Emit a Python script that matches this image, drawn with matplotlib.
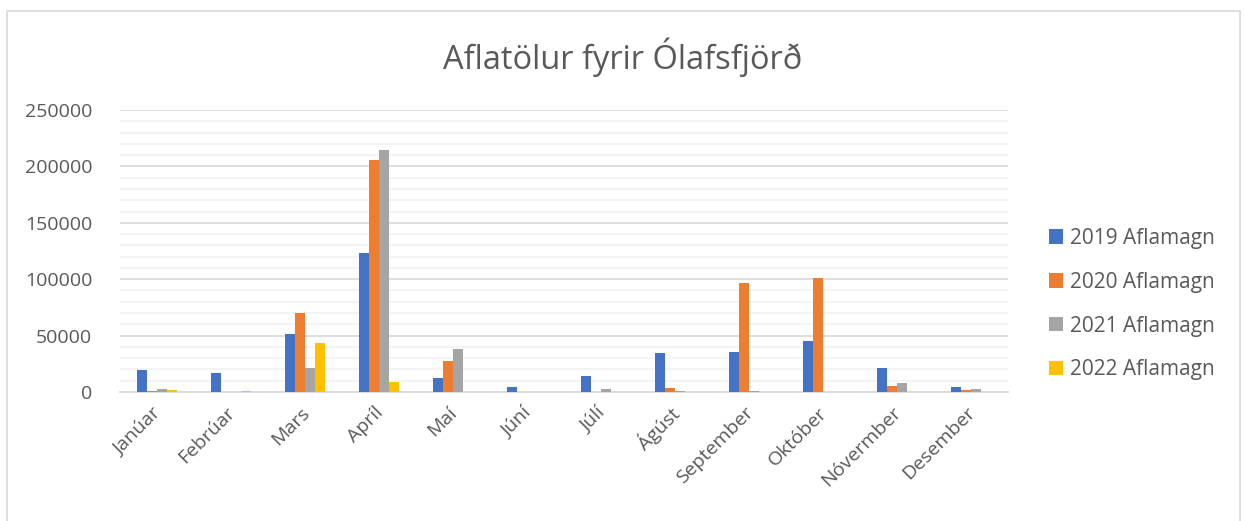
import numpy as np
import matplotlib.pyplot as plt
from matplotlib.patches import Rectangle
from matplotlib.ticker import MultipleLocator

plt.rcParams['font.family'] = ['Open Sans', 'DejaVu Sans']

months = ['Janúar', 'Febrúar', 'Mars', 'Apríl', 'Maí', 'Júní', 'Júlí',
          'Ágúst', 'September', 'Október', 'Nóvermber', 'Desember']
series_names = ['2019 Aflamagn', '2020 Aflamagn', '2021 Aflamagn', '2022 Aflamagn']

afli_2019 = [19200, 16800, 51800, 123200, 12100, 4800, 14200, 34900, 35800, 45000, 21300, 4200]
afli_2020 = [500, 0, 69800, 206000, 27500, 0, 300, 3600, 96400, 101100, 5300, 1500]
afli_2021 = [3000, 0, 21600, 214900, 38100, 0, 2400, 500, 500, 0, 8300, 2400]
afli_2022 = [1500, 900, 43800, 8600, 0, 0, 0, 0, 0, 0, 0, 0]

colors = ['#4472C4', '#ED7D31', '#A5A5A5', '#FFC000']
text_color = '#595959'

fig = plt.figure(figsize=(12.44, 5.21), dpi=100)
ax = fig.add_axes([120 / 1244, 1 - 392 / 521, 888 / 1244, 282 / 521])

# outer chart border
fig.add_artist(Rectangle((7 / 1244, -0.05), 1233 / 1244, 1.05 - 11 / 521,
                         transform=fig.transFigure, fill=False,
                         edgecolor='#d9d9d9', linewidth=1.2))

x = np.arange(len(months))
bw = 0.135
all_series = [afli_2019, afli_2020, afli_2021, afli_2022]
for i, (vals, name) in enumerate(zip(all_series, series_names)):
    ax.bar(x + (i - 1.5) * bw, vals, width=bw, color=colors[i], label=name,
           zorder=3)

ax.set_xlim(-0.5, len(months) - 0.5)
ax.set_ylim(0, 250000)
ax.yaxis.set_major_locator(MultipleLocator(50000))
ax.yaxis.set_minor_locator(MultipleLocator(10000))
ax.grid(axis='y', which='major', color='#d9d9d9', linewidth=1.2, zorder=0)
ax.grid(axis='y', which='minor', color='#f2f2f2', linewidth=1.2, zorder=0)

for side in ['top', 'right', 'left']:
    ax.spines[side].set_visible(False)
ax.spines['bottom'].set_color('#d9d9d9')
ax.spines['bottom'].set_linewidth(1.2)

ax.set_xticks(x)
ax.set_xticklabels(months, rotation=45, ha='right', va='center_baseline',
                   rotation_mode='anchor', fontsize=14, color=text_color)
ax.tick_params(axis='x', length=0, pad=12)
ax.tick_params(axis='y', which='both', length=0, pad=20, labelsize=14,
               labelcolor=text_color)

fig.text(623 / 1244, 1 - 57 / 521, 'Aflatölur fyrir Ólafsfjörð',
         ha='center', va='center', fontsize=23.5, color=text_color)

leg = ax.legend(loc='upper left', bbox_to_anchor=(1030 / 1244, 1 - 209 / 521),
                bbox_transform=fig.transFigure, frameon=False, fontsize=15,
                handlelength=0.68, handleheight=0.68, handletextpad=0.35,
                labelspacing=1.1, labelcolor=text_color)

fig.savefig('out.png', dpi=100)
